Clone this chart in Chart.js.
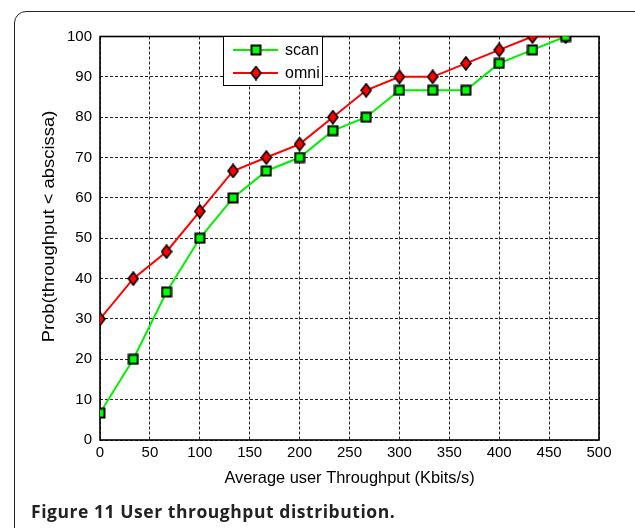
<!DOCTYPE html>
<html>
<head>
<meta charset="utf-8">
<script src="https://cdn.jsdelivr.net/npm/chart.js@4/dist/chart.umd.min.js"></script>
<style>
  html, body { margin: 0; padding: 0; background: #fff; overflow: hidden; width: 635px; height: 528px; }
  #frame { position: absolute; left: 14px; top: 11px; width: 640px; height: 560px; border: 1.5px solid #222; border-radius: 12px; box-sizing: border-box; }
  #chart { position: absolute; left: 0; top: 0; }
  #caption { position: absolute; left: 31px; top: 501px; font-family: "Open Sans", "Noto Sans", sans-serif; font-weight: bold; font-size: 17.5px; letter-spacing: 0.55px; line-height: 20px; color: #222; white-space: nowrap; }
</style>
</head>
<body>
<div id="frame"></div>
<canvas id="chart" width="635" height="528"></canvas>
<div id="caption">Figure 11 User throughput distribution.</div>
<script>
// ---- data ----
const throughput = [0, 33.33, 66.67, 100, 133.33, 166.67, 200, 233.33, 266.67, 300, 333.33, 366.67, 400, 433.33, 466.67];
const scanValues = [6.67, 20, 36.67, 50, 60, 66.67, 70, 76.67, 80, 86.67, 86.67, 86.67, 93.33, 96.67, 100];
const omniValues = [30, 40, 46.67, 56.67, 66.67, 70, 73.33, 80, 86.67, 90, 90, 93.33, 96.67, 100, 100];
const seriesNames = ["scan", "omni"];
const xTicks = [0, 50, 100, 150, 200, 250, 300, 350, 400, 450, 500];
const yTicks = [0, 10, 20, 30, 40, 50, 60, 70, 80, 90, 100];
const xTitle = "Average user Throughput (Kbits/s)";
const yTitle = "Prob(throughput < abscissa)";

const FONT = '"Liberation Sans", Arial, sans-serif';

// ---- marker images ----
function squareMarker() {
  const c = document.createElement('canvas'); c.width = 12; c.height = 12;
  const g = c.getContext('2d');
  g.fillStyle = '#00ff00'; g.fillRect(1.5, 1.5, 9, 9);
  g.strokeStyle = '#000'; g.lineWidth = 2; g.strokeRect(1.5, 1.5, 9, 9);
  return c;
}
function diamondMarker() {
  const c = document.createElement('canvas'); c.width = 12; c.height = 15;
  const g = c.getContext('2d');
  g.beginPath(); g.moveTo(6, 1); g.lineTo(11, 7.5); g.lineTo(6, 14); g.lineTo(1, 7.5); g.closePath();
  g.fillStyle = '#ff0000'; g.fill();
  g.strokeStyle = '#000'; g.lineWidth = 1.6; g.stroke();
  return c;
}
const sq = squareMarker();
const di = diamondMarker();

const toPts = (ys) => throughput.map((x, i) => ({ x: x, y: ys[i] }));

const framePlugin = {
  id: 'frame',
  beforeDatasetsDraw(chart) {
    const { ctx, chartArea: a } = chart;
    ctx.save();
    ctx.strokeStyle = '#000'; ctx.lineWidth = 1.6; ctx.setLineDash([]);
    ctx.strokeRect(a.left, a.top, a.right - a.left, a.bottom - a.top);
    ctx.restore();
  }
};

const yTitlePlugin = {
  id: 'yTitle',
  afterDraw(chart) {
    const { ctx } = chart;
    ctx.save();
    ctx.translate(54, 226.5);
    ctx.rotate(-Math.PI / 2);
    ctx.scale(1.15, 1);
    ctx.fillStyle = '#000';
    ctx.font = '16px ' + FONT;
    ctx.textAlign = 'center';
    ctx.textBaseline = 'alphabetic';
    ctx.fillText(yTitle, 0, 0);
    ctx.restore();
  }
};

const legendPlugin = {
  id: 'boxLegend',
  afterDatasetsDraw(chart) {
    const { ctx } = chart;
    const x0 = 223.5, y0 = 36.5, w = 99, h = 49;
    ctx.save();
    ctx.fillStyle = '#fff'; ctx.fillRect(x0, y0, w, h);
    ctx.strokeStyle = '#000'; ctx.lineWidth = 1; ctx.strokeRect(x0, y0, w, h);
    const rows = [50, 73];
    chart.data.datasets.forEach((ds, i) => {
      const y = rows[i];
      ctx.strokeStyle = ds.borderColor; ctx.lineWidth = 2;
      ctx.beginPath(); ctx.moveTo(233, y); ctx.lineTo(278, y); ctx.stroke();
      const img = ds.pointStyle;
      ctx.drawImage(img, 256 - img.width / 2, y - img.height / 2);
      ctx.fillStyle = '#000'; ctx.font = '16px ' + FONT;
      ctx.textBaseline = 'middle'; ctx.textAlign = 'left';
      ctx.fillText(ds.label, 285, y + 1);
    });
    ctx.restore();
  }
};

new Chart(document.getElementById('chart'), {
  type: 'line',
  data: {
    datasets: [
      { label: seriesNames[0], data: toPts(scanValues), borderColor: '#00f000', borderWidth: 2, pointStyle: sq, pointRadius: 6, tension: 0, fill: false },
      { label: seriesNames[1], data: toPts(omniValues), borderColor: '#ff0000', borderWidth: 2, pointStyle: di, pointRadius: 6, tension: 0, fill: false }
    ]
  },
  options: {
    responsive: false,
    animation: false,
    devicePixelRatio: 1,
    layout: { padding: { top: 36.5, right: 36, left: 0, bottom: 0 } },
    plugins: { legend: { display: false }, tooltip: { enabled: false } },
    scales: {
      x: {
        type: 'linear', min: 0, max: 500,
        afterFit: (s) => { s.height = 88; },
        afterBuildTicks: (s) => { s.ticks = xTicks.map(v => ({ value: v })); },
        grid: { color: '#222', lineWidth: 1, drawTicks: false },
        border: { display: false, dash: [3, 2] },
        ticks: { color: '#000', padding: 4, maxRotation: 0, font: { family: FONT, size: 15 } },
        title: { display: true, text: xTitle, color: '#000', padding: { top: 0, bottom: 40 }, font: { family: FONT, size: 16.4 } }
      },
      y: {
        type: 'linear', min: 0, max: 100,
        afterFit: (s) => { s.width = 100; },
        afterBuildTicks: (s) => { s.ticks = yTicks.map(v => ({ value: v })); },
        grid: { color: '#222', lineWidth: 1, drawTicks: false },
        border: { display: false, dash: [3, 2] },
        ticks: { color: '#000', padding: 8, font: { family: FONT, size: 15 } },
        title: { display: false }
      }
    }
  },
  plugins: [framePlugin, legendPlugin, yTitlePlugin]
});
</script>
</body>
</html>
